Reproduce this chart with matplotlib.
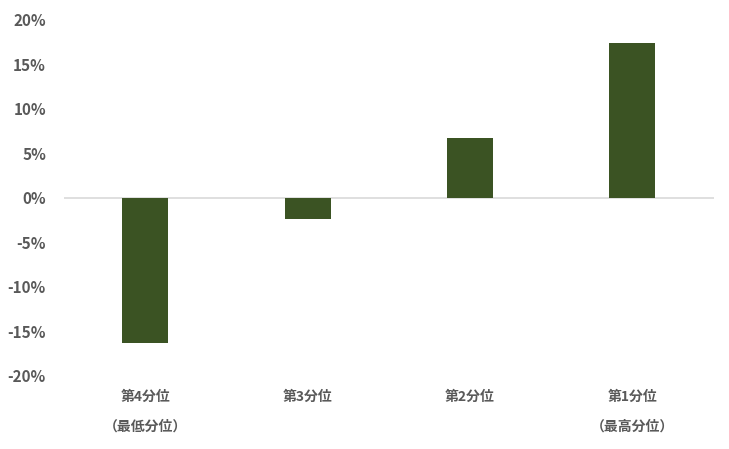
import numpy as np
import matplotlib.pyplot as plt
from matplotlib.ticker import FuncFormatter

plt.rcParams['font.family'] = ['Noto Sans CJK JP', 'DejaVu Sans']

categories = ['第4分位\n（最低分位）', '第3分位', '第2分位', '第1分位\n（最高分位）']
values = [-16.3, -2.35, 6.75, 17.4]
yticks = [-20, -15, -10, -5, 0, 5, 10, 15, 20]

text_color = '#595959'
bar_color = '#3B5323'

fig = plt.figure(figsize=(7.29, 4.49), dpi=100)
ax = fig.add_axes([0.0878, 0.1626, 0.891, 0.7929])

x = np.arange(len(categories))
ax.bar(x, values, width=0.283, color=bar_color, zorder=2)
ax.axhline(0, color='#D9D9D9', linewidth=1.2, zorder=1)

ax.set_xlim(-0.5, len(categories) - 0.5)
ax.set_ylim(-20, 20)
ax.set_yticks(yticks)
ax.yaxis.set_major_formatter(FuncFormatter(lambda v, p: f'{v:.0f}%'))
ax.set_xticks(x)
ax.set_xticklabels(categories, linespacing=2.45)

for s in ax.spines.values():
    s.set_visible(False)
ax.tick_params(axis='y', length=0, pad=13, labelsize=11, labelcolor=text_color)
ax.tick_params(axis='x', length=0, pad=10, labelsize=10, labelcolor=text_color)
for lab in ax.get_yticklabels() + ax.get_xticklabels():
    lab.set_fontweight('bold')
for lab in ax.get_xticklabels():
    lab.set_verticalalignment('top')

fig.savefig('out.png', dpi=100)
